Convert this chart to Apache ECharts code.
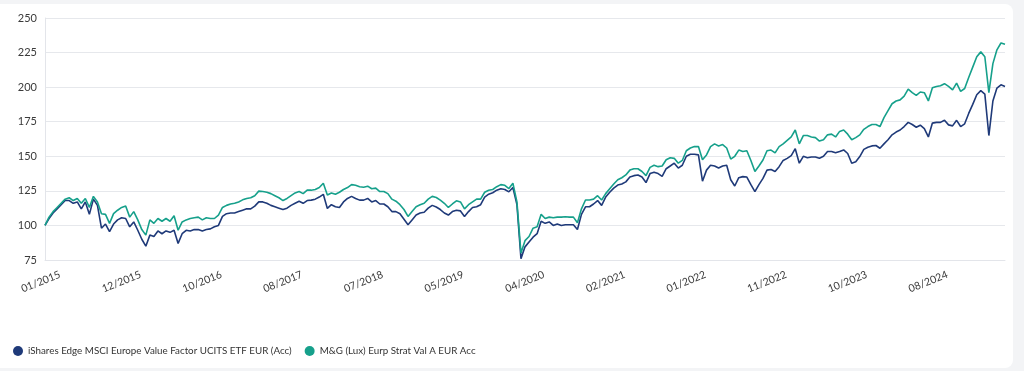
<!DOCTYPE html>
<html><head><meta charset="utf-8">
<script src="https://cdn.jsdelivr.net/npm/echarts/dist/echarts.min.js"></script>
<style>
html,body{margin:0;padding:0;background:#f3f4f6;width:1024px;height:371px;overflow:hidden;}
#card{position:absolute;left:0;top:4px;width:1013px;height:364px;background:#fff;border-radius:0 8px 8px 0;}
#chart{position:absolute;left:0;top:0;width:1024px;height:371px;}
</style></head><body><div id="card"></div><div id="chart"></div>
<script>
const seriesNames = ['iShares Edge MSCI Europe Value Factor UCITS ETF EUR (Acc)', 'M&G (Lux) Eurp Strat Val A EUR Acc'];
const tickLabels = ['01/2015','12/2015','10/2016','08/2017','07/2018','05/2019','04/2020','02/2021','01/2022','11/2022','10/2023','08/2024'];
const yTicks = [75, 100, 125, 150, 175, 200, 225, 250];
const iShares = [
100,105,109,112,115,118,118,116,117,112,117,108,119,114.5,98,101,95.5,101,104,105.5,
105,99,102.5,96.5,90,85,93,92,96,94,96,95,96.5,87,94,96.5,96,97,97,96,
97,97.5,99,100,106.5,108.5,109,109,110,111,112,112,114,117,117,116,114.5,113.5,112.5,111.5,
112.5,114.5,116,117.5,116,118,118.3,119,120.5,122.5,112.3,115,113.5,113,117,119.5,121,119.5,118.3,118.3,
119.5,117,118,115.5,115.5,113.5,110,110,108.5,104.5,100.5,104,107.5,109,109.5,112.5,114.5,113.3,111.5,109,
107.5,110,111,110.5,106.5,110,113,113.5,115,120.5,122.6,123.6,125.5,126.5,126,124.3,127.4,115,76,84.5,
88,91.5,94,103,101.5,102.5,100,101,100,100.5,100.5,100.5,97,108,113.5,113.5,115.5,118,114.5,120.5,
124,127,129.2,130,131.5,135,136,136.5,135,131,137.5,138.5,137.5,135.5,141,143,145,141.5,143.5,150,
151.5,151.5,151,132,140,143.5,143,141.5,143,143.5,133,128.5,134.5,135.3,135,129.5,124.4,129.5,134,140,
140.5,139,142.5,147,148.5,150.5,155.5,145,150,149,149.5,149.5,148.6,150,153.5,153.5,152.5,153.4,154.6,152,
145,146,149.8,155,156.5,157.5,157.8,155.8,159,162,165.5,167.5,169,171.5,174.5,173,171,172.5,170,164,
174,174.5,174.5,176,172.7,172,176,171.5,173.5,181,187.5,194.5,197.5,195,165,190,199.3,201.7,200.5
];
const mgLux = [
100,106,110,113,116,119,120,118,119.5,116,119.5,113,121,117,108.5,108,101.5,108.5,111,113,
114,106,110,104,97,93,104,101.5,105,103,105,103,107,96.5,102.5,104,105,105.5,106,104,
105.5,105,105,107.5,113,114.5,115.5,116,117,118.5,119.5,120,121.5,124.8,124.5,124,123,121.5,120,118,
119.5,121.5,123.5,124.5,123,125.5,125.5,126,127.4,130.5,122,123.5,122.5,124,126,127.4,129.5,129,128,127.6,
128.4,126.5,127,124.5,124.5,123,119,117.5,115,111.5,106.5,110,113.5,115,116,119,121,120.2,118.3,116,
113,115.5,117.8,117,112,115,117,119,119,124,125.5,126,128,129.5,129,126.7,130.5,117,80,89,
92,98,99,108,105,106,105.5,106,106,106.3,106,106,102,112,118.4,118.4,119,121.5,118.4,123,
126.5,130,133,134.5,136.5,140,141,141,139,136,142,143.5,142.5,143,147.5,149,148.5,145,147,154,
156,157,157,147.5,151,157,159,157.5,158.5,156,148,150,154.5,153.5,154,147,139,143,147.3,154,
154.5,152.5,157,159,161.5,164,169,159,165,165,164,163.5,161,162,165.5,166,164,168,169,166,
162,163.5,165.5,169.5,171.5,173,173,171.5,178,183,188,190,190.8,193.5,198.5,196,194,196.5,196,190,
199.5,200.5,201,202.5,200.5,198,202.9,197,199,207,214.5,222,225.5,222,196,217,227,231.9,231
];
const startDate = Date.UTC(2015, 0, 20);
const stepDays = 15.9;
const pointsPerLabel = 20;
const categories = iShares.map((_, i) => new Date(startDate + Math.round(i * stepDays) * 864e5).toISOString().slice(0, 10));

const font = 'Lato';
const chart = echarts.init(document.getElementById('chart'), null, {renderer: 'canvas'});
chart.setOption({
  animation: false,
  backgroundColor: 'transparent',
  grid: {left: 45, right: 19, top: 18, bottom: 111, containLabel: false},
  legend: {
    left: 8, top: 341, icon: 'circle', itemWidth: 10, itemHeight: 10, itemGap: 13,
    textStyle: {fontFamily: font, fontSize: 9.8, color: '#333'},
    data: seriesNames
  },
  xAxis: {
    type: 'category', boundaryGap: false, data: categories,
    axisLine: {show: true, lineStyle: {color: '#e3e5ea', width: 1}},
    axisTick: {show: false},
    splitLine: {show: false},
    axisLabel: {
      interval: pointsPerLabel - 1, rotate: 22, align: 'center', verticalAlign: 'middle', margin: 20,
      padding: [0, 9, 0, 0],
      fontFamily: font, fontSize: 10.5, color: '#3a3a3a',
      formatter: (v, idx) => tickLabels[Math.round(idx / pointsPerLabel)] || ''
    }
  },
  yAxis: {
    type: 'value', min: yTicks[0], max: yTicks[yTicks.length - 1], interval: 25,
    axisLine: {show: true, lineStyle: {color: '#e3e5ea'}},
    axisTick: {show: false},
    splitLine: {lineStyle: {color: '#e6e8ec'}},
    axisLabel: {margin: 8, fontFamily: font, fontSize: 11, color: '#3a3a3a'}
  },
  series: [
    {name: seriesNames[0], type: 'line', data: iShares, showSymbol: false, symbol: 'circle',
     color: '#1f3a79', lineStyle: {width: 1.6, color: '#1f3a79'}},
    {name: seriesNames[1], type: 'line', data: mgLux, showSymbol: false, symbol: 'circle',
     color: '#16a08b', lineStyle: {width: 1.6, color: '#16a08b'}}
  ]
});
</script></body></html>
